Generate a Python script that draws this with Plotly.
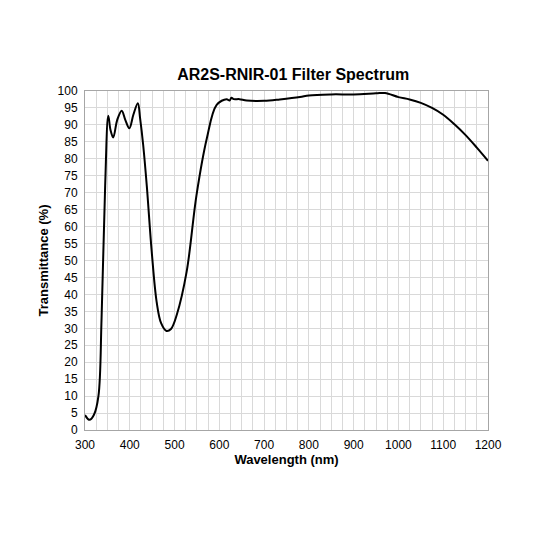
import plotly.graph_objects as go

wavelength = [300, 310, 320, 330, 337, 345, 352, 357, 363, 372, 382, 390, 399, 408, 418, 423, 430, 438,
              449, 460, 470, 482, 492, 505, 527, 549, 572, 594, 616, 623, 627, 632, 645, 661, 700, 735,
              780, 800, 850, 900, 950, 970, 1000, 1025, 1050, 1075, 1100, 1125, 1150, 1175, 1200]
transmittance = [4.4, 3.0, 4.5, 10, 33, 72, 92.7, 88.5, 86.3, 91.5, 94.2, 91.5, 89, 93, 96.4, 92, 84, 72,
                 52.6, 37.8, 31.5, 29.2, 29.8, 34, 46.7, 69.3, 86, 95.9, 97.6, 97.2, 98, 97.6, 97.6, 97.2, 97.1, 97.5,
                 98.2, 98.7, 99.0, 99.0, 99.3, 99.4, 98.2, 97.5, 96.5, 95.0, 93, 90.2, 87, 83.3, 79.4]

fig = go.Figure()
fig.add_trace(go.Scatter(
    x=wavelength, y=transmittance, mode='lines', line=dict(color='black', width=2, shape='spline'),
    showlegend=False
))

axis_style = dict(showgrid=True, gridcolor='#d9d9d9', gridwidth=1, showline=True, linecolor='#a6a6a6',
                  mirror=True, zeroline=False, ticks='', ticklabelstandoff=4,
                  tickfont=dict(size=12, color='black'))
fig.update_layout(
    width=533, height=533,
    title=dict(text='<b>AR2S-RNIR-01 Filter Spectrum</b>', x=0.535, y=0.885, xanchor='center',
               font=dict(size=16, color='black')),
    font=dict(family='Liberation Sans, Arial', color='black'),
    plot_bgcolor='white', paper_bgcolor='white',
    margin=dict(l=77, r=53, t=83, b=111),
    xaxis=dict(axis_style, range=[300, 1200], dtick=100,
               title=dict(text='<b>Wavelength (nm)</b>', font=dict(size=13), standoff=0),
               minor=dict(dtick=25, showgrid=True, gridcolor='#d9d9d9')),
    yaxis=dict(axis_style, range=[0, 100], dtick=5,
               title=dict(text='<b>Transmittance (%)</b>', font=dict(size=13), standoff=6)),
)
fig.write_html("out.html")
